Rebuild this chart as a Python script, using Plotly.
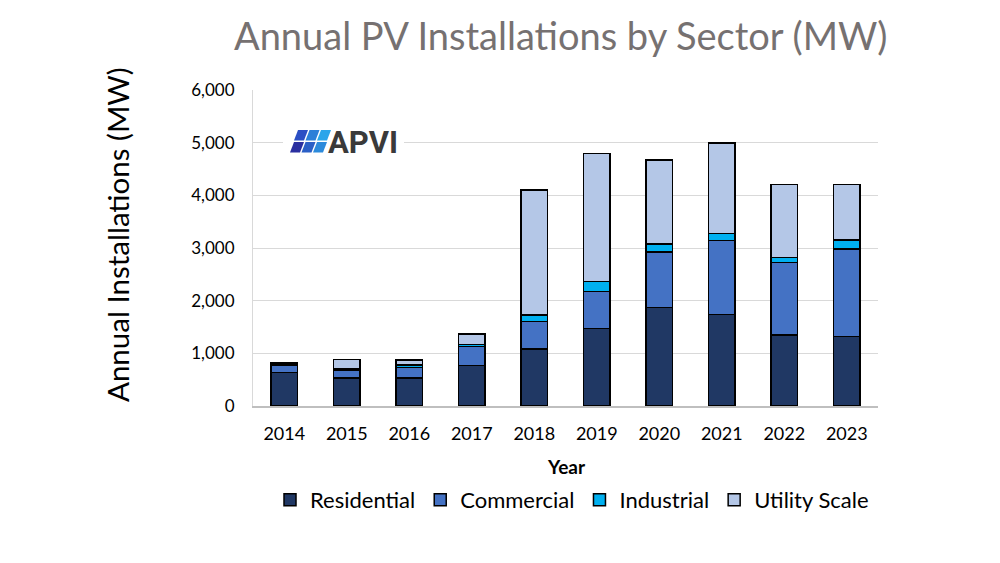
"""
Annual PV installations in Australia by sector (MW), 2014-2023.
Stacked bars, values read off the APVI chart.
"""

import plotly.graph_objects as go

years = ['2014', '2015', '2016', '2017', '2018', '2019', '2020', '2021', '2022', '2023']
residential = [640, 530, 530, 770, 1080, 1470, 1870, 1740, 1350, 1320]
commercial = [140, 155, 205, 360, 520, 700, 1050, 1400, 1375, 1660]
industrial = [30, 30, 45, 40, 130, 195, 160, 135, 95, 175]
utility = [15, 170, 90, 200, 2375, 2425, 1595, 1715, 1385, 1050]

y_ticks = [0, 1000, 2000, 3000, 4000, 5000, 6000]
y_labels = ['0', '1,000', '2,000', '3,000', '4,000', '5,000', '6,000']

series = [
    ('Residential', residential, '#203864'),
    ('Commercial', commercial, '#4472C4'),
    ('Industrial', industrial, '#00B0F0'),
    ('Utility Scale', utility, '#B4C7E7'),
]

FONT = 'Lato'

fig = go.Figure()
for name, values, color in series:
    fig.add_trace(go.Bar(
        x=years,
        y=values,
        name=name,
        marker={'color': color, 'line': {'color': '#000000', 'width': 1.5}},
    ))

# plot area in screen pixels: x 253..878, y 90..406
# (the page adds an 8px body margin, so margins are 8px smaller)
L, R, T, B = 253, 878, 90, 406
OFF = 8


def px(x):
    return (x - L) / (R - L)


def py(y):
    return (B - y) / (B - T)


shapes = []
# white patch behind the logo (hides the gridline)
shapes.append(dict(type='rect', xref='paper', yref='paper', layer='above',
                   x0=px(283), x1=px(404), y0=py(157), y1=py(127),
                   fillcolor='white', line={'width': 0}))

# APVI logo icon: 2 rows x 3 columns of slanted cells
cell_colors = [['#2B4FC4', '#2C7FD8', '#2AA5EA'],
               ['#2A2FA0', '#2B5FC6', '#2C8ADB']]
for r in range(2):
    for c in range(3):
        top = 130 + r * 12
        bot = top + 10.5
        slant_top = 8 - r * 4
        slant_bot = slant_top - 4
        x_top = 290 + slant_top + c * 11.5
        x_bot = 290 + slant_bot + c * 11.5
        w = 10
        path = (f'M {px(x_bot)},{py(bot)} L {px(x_bot + w)},{py(bot)} '
                f'L {px(x_top + w)},{py(top)} L {px(x_top)},{py(top)} Z')
        shapes.append(dict(type='path', xref='paper', yref='paper', layer='above',
                           path=path, fillcolor=cell_colors[r][c], line={'width': 0}))

annotations = [
    dict(text='APVI', xref='paper', yref='paper', x=px(326), y=py(142),
         xanchor='left', yanchor='middle', showarrow=False,
         font={'family': 'Roboto', 'size': 31, 'color': '#3A3A3A', 'weight': 'bold'}),
    dict(text='Annual Installations (MW)', xref='paper', yref='paper',
         x=px(117), y=py(235), xanchor='center', yanchor='middle',
         textangle=-90, showarrow=False,
         font={'family': FONT, 'size': 29.5, 'color': '#000000'}),
    dict(text='Year', xref='paper', yref='paper', x=px(566), y=py(466),
         xanchor='center', yanchor='middle', showarrow=False,
         font={'family': FONT, 'size': 19, 'color': '#000000', 'weight': 'bold'}),
    dict(text='Annual PV Installations by Sector (MW)', xref='paper', yref='paper',
         x=px(561), y=py(35), xanchor='center', yanchor='middle', showarrow=False,
         font={'family': FONT, 'size': 38, 'color': '#767171'}),
]

fig.update_layout(
    width=1000, height=563,
    margin={'l': L - OFF, 'r': 1000 - R + OFF, 't': T - OFF, 'b': 563 - B + OFF},
    barmode='stack',
    bargap=0.58,
    plot_bgcolor='white',
    paper_bgcolor='white',
    font={'family': FONT, 'size': 17, 'color': '#000000'},
    showlegend=True,
    legend={'orientation': 'h', 'x': px(572), 'xanchor': 'center',
            'y': py(500), 'yanchor': 'middle', 'font': {'size': 22},
            'traceorder': 'normal'},
    shapes=shapes,
    annotations=annotations,
)
fig.update_xaxes(showline=True, linecolor='#BFBFBF', linewidth=1.5,
                 ticks='', tickfont={'size': 18}, ticklabelstandoff=11)
fig.update_yaxes(range=[0, 6000], tickvals=y_ticks, ticktext=y_labels,
                 showgrid=True, gridcolor='#D9D9D9', gridwidth=1.2,
                 showline=True, linecolor='#D9D9D9', linewidth=1.2,
                 zeroline=False, tickfont={'size': 17}, ticklabelstandoff=14)

fig.write_html("out.html")
